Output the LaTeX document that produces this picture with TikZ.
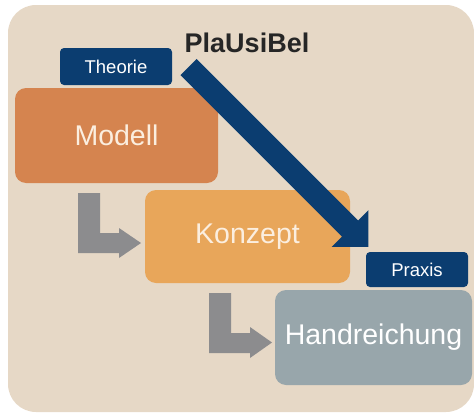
\documentclass[tikz,border=0pt]{standalone}
\usepackage{fontspec}
\setmainfont{Liberation Sans}
\begin{document}
\definecolor{bgbeige}{HTML}{E6D8C6}
\definecolor{modellorange}{HTML}{D5844F}
\definecolor{konzeptorange}{HTML}{E8A65A}
\definecolor{handgrey}{HTML}{98A6AB}
\definecolor{navy}{HTML}{0B3D70}
\definecolor{arrowgrey}{HTML}{8C8C8E}
\definecolor{cream}{HTML}{FBEEDF}
\begin{tikzpicture}[x=1pt,y=-1pt,
  bigbox/.style={rectangle, rounded corners=11pt, inner sep=0pt,
    font=\fontsize{28.5}{31}\selectfont},
  tagbox/.style={rectangle, rounded corners=4pt, fill=navy, text=white,
    inner sep=0pt, font=\fontsize{18.5}{21}\selectfont},
  flow/.style={fill=arrowgrey},
  bridge/.style={fill=navy}]
\useasboundingbox (0,0) rectangle (474,415);
% backdrop
\fill[bgbeige, rounded corners=28pt] (8,5) rectangle (474,412);

% title
\node[font=\bfseries\fontsize{27}{30}\selectfont, text=black!85] (title) at (247,43) {PlaUsiBel};

% three stages
\node[bigbox, fill=modellorange, text=cream, minimum width=203pt, minimum height=95pt] (modell) at (116.5,135.5) {Modell};
\node[bigbox, fill=konzeptorange, text=cream, minimum width=205pt, minimum height=93pt] (konzept) at (247.5,236.5) {Konzept};
\node[bigbox, fill=handgrey, text=white, minimum width=197pt, minimum height=95pt] (hand) at (373.5,337.5) {Handreichung};

% labels at both ends of the diagonal
\node[tagbox, minimum width=112pt, minimum height=37pt] (theorie) at (116,66.5) {Theorie};
\node[tagbox, minimum width=102pt, minimum height=35pt] (praxis) at (417,269.5) {Praxis};

% grey elbow arrows between stages
\fill[flow] (78,193) -- (100,193) -- (100,233) -- (119,233) -- (119,228)
  -- (141,243) -- (119,258) -- (119,253) -- (78,253) -- cycle;
\fill[flow] (209,293) -- (231,293) -- (231,333) -- (250,333) -- (250,327)
  -- (272,342.5) -- (250,358) -- (250,353) -- (209,353) -- cycle;

% diagonal arrow from Theorie to Praxis
\fill[bridge] (180.4,75.1) -- (196.6,58.9) -- (358.1,220.4) -- (368.4,210.1)
  -- (368.4,246.9) -- (331.6,246.9) -- (341.9,236.6) -- cycle;
\end{tikzpicture}
\end{document}
